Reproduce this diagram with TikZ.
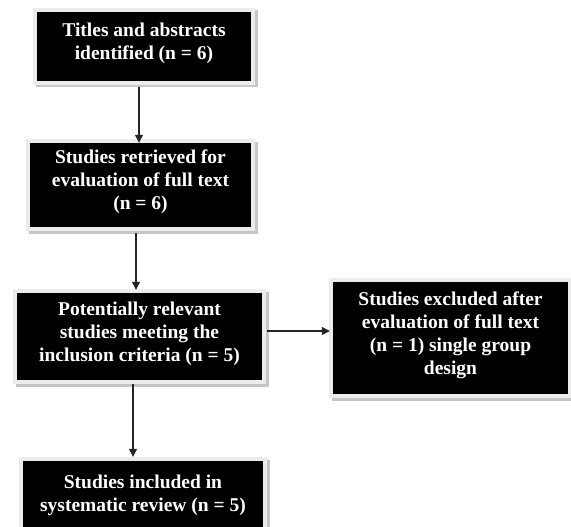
\documentclass[tikz,border=0pt]{standalone}
\usepackage{fontspec}
\setmainfont{Liberation Serif}
\usetikzlibrary{arrows.meta,shadows}
\definecolor{framegray}{HTML}{ECECEC}
\definecolor{shadegray}{HTML}{C6C6C6}
\begin{document}
\begin{tikzpicture}[x=1pt,y=1pt,
  flowbox/.style={fill=black, text=white, align=center, inner sep=0pt,
    font=\bfseries\fontsize{19.5}{23}\selectfont, text depth=10.5pt,
    general shadow={fill=shadegray, draw=shadegray, line width=8pt,
      shadow xshift=2.5pt, shadow yshift=-2.5pt},
    preaction={draw=framegray, line width=8pt}},
  arr/.style={draw=black!85, line width=1.2pt, -{Triangle[length=8pt,width=8pt]}}
]
\useasboundingbox (0,0) rectangle (571,-527);
\clip (0,0) rectangle (571,-527);
\fill[white] (0,0) rectangle (571,-527);

\node[flowbox, minimum width=214pt, minimum height=69pt] (b1) at (144,-46.5)
  {Titles and abstracts\\identified (n = 6)};
\node[flowbox, minimum width=221pt, minimum height=84pt] (b2) at (140.5,-185)
  {Studies retrieved for\\evaluation of full text\\(n = 6)};
\node[flowbox, minimum width=245pt, minimum height=87pt] (b3) at (139.5,-336.5)
  {Potentially relevant\\studies meeting the\\inclusion criteria (n = 5)};
\node[flowbox, minimum width=235pt, minimum height=112pt] (b4) at (450.5,-338)
  {Studies excluded after\\evaluation of full text\\(n = 1) single group\\design};
\node[flowbox, minimum width=240pt, minimum height=74pt] (b5) at (143,-498)
  {Studies included in\\systematic review (n = 5)};

\draw[arr, shorten <=6pt] ([xshift=-5pt]b1.south) -- ([xshift=-1.5pt]b2.north);
\draw[arr, shorten <=6pt, shorten >=3pt] ([xshift=-4.5pt]b2.south) -- ([xshift=-3.5pt]b3.north);
\draw[arr, shorten <=4pt, shorten >=4pt] ([xshift=-6.5pt]b3.south) -- ([xshift=-10pt]b5.north);
\draw[arr, shorten <=5pt, shorten >=3pt] ([yshift=5.5pt]b3.east) -- ([yshift=5.5pt]b3.east -| b4.west);
\end{tikzpicture}
\end{document}
